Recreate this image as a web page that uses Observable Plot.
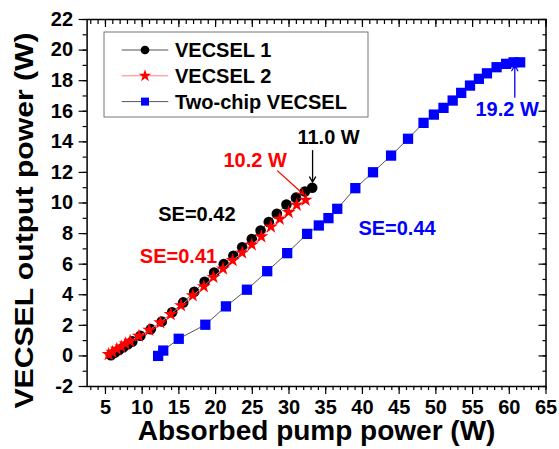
<!DOCTYPE html>
<html><head><meta charset="utf-8">
<script src="https://cdn.jsdelivr.net/npm/d3@7"></script>
<script src="https://cdn.jsdelivr.net/npm/@observablehq/plot@0.6"></script>
<style>body{margin:0;background:#fff}</style>
</head><body><div id="chart"></div>
<script>
const FONT = "'Liberation Sans', Arial, Helvetica, sans-serif";

// VECSEL 1 (black circles)
const vecsel1X = [5.75, 6.25, 6.85, 7.45, 8.06, 8.66, 9.76, 11.17, 12.67, 14.08, 15.59, 17.09, 18.5, 19.8, 21.11, 22.42, 23.62, 24.93, 26.13, 27.24, 28.34, 29.65, 30.95, 32.16, 33.16];
const vecsel1Y = [0.05, 0.2, 0.38, 0.57, 0.77, 0.95, 1.32, 1.75, 2.25, 2.85, 3.5, 4.2, 4.85, 5.45, 6.0, 6.55, 7.1, 7.65, 8.2, 8.75, 9.3, 9.9, 10.35, 10.75, 11.0];
// VECSEL 2 (red stars)
const vecsel2X = [5.44, 5.95, 6.55, 7.15, 7.75, 8.36, 9.56, 10.97, 12.47, 13.88, 15.29, 16.89, 18.4, 19.7, 21.01, 22.32, 23.62, 24.93, 26.23, 27.54, 28.74, 29.95, 31.05, 32.26];
const vecsel2Y = [0.1, 0.25, 0.45, 0.6, 0.8, 0.97, 1.3, 1.7, 2.18, 2.72, 3.3, 3.95, 4.54, 5.15, 5.7, 6.25, 6.75, 7.27, 7.8, 8.45, 8.95, 9.4, 9.87, 10.2];
// Two-chip VECSEL (blue squares)
const twoChipX = [12.17, 12.87, 14.98, 18.6, 21.41, 24.27, 27.03, 29.75, 32.46, 34.06, 35.37, 36.57, 39.03, 41.44, 43.9, 46.21, 48.32, 49.73, 51.04, 52.29, 53.45, 54.65, 55.86, 56.96, 58.27, 59.57, 60.58, 61.48];
const twoChipY = [0.0, 0.35, 1.12, 2.04, 3.24, 4.33, 5.54, 6.72, 7.98, 8.53, 9.01, 9.62, 10.97, 12.01, 13.1, 14.2, 15.24, 15.78, 16.22, 16.7, 17.2, 17.68, 18.12, 18.48, 18.88, 19.1, 19.2, 19.2];

const seriesNames = ["VECSEL 1", "VECSEL 2", "Two-chip VECSEL"];
const xTicks = [5, 10, 15, 20, 25, 30, 35, 40, 45, 50, 55, 60, 65];
const yTicks = [-2, 0, 2, 4, 6, 8, 10, 12, 14, 16, 18, 20, 22];
const xTitle = "Absorbed pump power (W)";
const yTitle = "VECSEL output power (W)";

// Annotations (data units)
const noteText = ["11.0 W", "10.2 W", "19.2 W", "SE=0.42", "SE=0.41", "SE=0.44"];
const noteX = [35.39, 25.38, 59.71, 17.45, 14.95, 44.71];
const noteY = [14.26, 12.78, 16.09, 9.25, 6.5, 8.31];
const noteColor = ["#000000", "#ff0000", "#0000ff", "#000000", "#ff0000", "#0000ff"];
// Arrows (data units)
const arrowX1 = [33.21, 28.44, 60.75];
const arrowY1 = [13.43, 12.1, 16.92];
const arrowX2 = [33.21, 31.99, 60.75];
const arrowY2 = [11.36, 10.56, 18.99];
const arrowColor = ["#000000", "#ff0000", "#0000ff"];

const rows = (xs, ys) => xs.map((x, i) => ({x, y: ys[i]}));
const v1 = rows(vecsel1X, vecsel1Y);
const v2 = rows(vecsel2X, vecsel2Y);
const tc = rows(twoChipX, twoChipY);
const notes = noteText.map((t, i) => ({t, x: noteX[i], y: noteY[i], c: noteColor[i]}));
const arrows = arrowX1.map((x1, i) => ({x1, y1: arrowY1[i], x2: arrowX2[i], y2: arrowY2[i], c: arrowColor[i]}));

const minorX = d3.range(3, 66, 1);
const minorY = d3.range(-2, 23, 1);

const legendItems = [
  {name: seriesNames[0], line: "#555", fill: "#000", sym: d3.symbolCircle, size: 60},
  {name: seriesNames[1], line: "#ff8080", fill: "#ff0000", sym: d3.symbolStar, size: 50},
  {name: seriesNames[2], line: "#555", fill: "#0000ff", sym: d3.symbolSquare, size: 64}
];

function legend() {
  const g = d3.create("svg:g").attr("text-anchor", "start");
  g.append("rect").attr("x", 104).attr("y", 32).attr("width", 264).attr("height", 85)
    .attr("fill", "white").attr("stroke", "#777").attr("stroke-width", 1);
  legendItems.forEach((s, i) => {
    const cy = 50 + i * 25.8;
    g.append("line").attr("x1", 121.7).attr("x2", 168.3).attr("y1", cy).attr("y2", cy)
      .attr("stroke", s.line).attr("stroke-width", 1);
    g.append("path").attr("transform", `translate(145,${cy})`)
      .attr("d", d3.symbol(s.sym, s.size)()).attr("fill", s.fill);
    g.append("text").attr("x", 175).attr("y", cy).attr("dy", "0.36em").attr("text-anchor", "start")
      .attr("font-size", 20).attr("font-weight", "bold").attr("fill", "#000").text(s.name);
  });
  return g.node();
}

const chart = Plot.plot({
  width: 559, height: 449,
  marginLeft: 86.6, marginRight: 13.5, marginTop: 19, marginBottom: 63,
  style: {fontFamily: FONT, fontWeight: "bold", fontSize: "20px", background: "white", color: "black", overflow: "visible"},
  x: {domain: [2.5, 65]},
  y: {domain: [-2, 22]},
  marks: [
    // bottom axis (outward)
    Plot.axisX({ticks: minorX, tickSize: 4, text: null, label: null, strokeWidth: 1.2}),
    Plot.axisX({ticks: xTicks, tickSize: 8, tickPadding: 5, fontSize: 20, fontWeight: "bold", label: null, tickFormat: d => String(d), strokeWidth: 1.2}),
    // top axis (inward)
    Plot.axisX({anchor: "top", ticks: minorX, tickSize: -4, text: null, label: null, strokeWidth: 1.2}),
    Plot.axisX({anchor: "top", ticks: xTicks, tickSize: -7, text: null, label: null, strokeWidth: 1.2}),
    // left axis (outward)
    Plot.axisY({ticks: minorY, tickSize: 4, text: null, label: null, strokeWidth: 1.2}),
    Plot.axisY({ticks: yTicks, tickSize: 8, tickPadding: 6, fontSize: 20, fontWeight: "bold", label: null, tickFormat: d => String(d), strokeWidth: 1.2}),
    // right axis (inward)
    Plot.axisY({anchor: "right", ticks: minorY, tickSize: -4, text: null, label: null, strokeWidth: 1.2}),
    Plot.axisY({anchor: "right", ticks: yTicks, tickSize: -8, text: null, label: null, strokeWidth: 1.2}),
    Plot.frame({stroke: "black", strokeWidth: 1.5}),
    // axis titles
    Plot.text([xTitle], {text: d => d, frameAnchor: "bottom", textAnchor: "middle", dy: 53, fontSize: 28, fontWeight: "bold"}),
    Plot.text([yTitle], {text: d => d, frameAnchor: "left", textAnchor: "middle", rotate: -90, dx: -62, dy: 17.5, fontSize: 26, fontWeight: "bold"}),
    // series
    Plot.line(tc, {x: "x", y: "y", stroke: "#555", strokeWidth: 1}),
    Plot.dot(tc, {x: "x", y: "y", symbol: "square", r: 5.8, fill: "#0000ff"}),
    Plot.line(v1, {x: "x", y: "y", stroke: "#555", strokeWidth: 1}),
    Plot.dot(v1, {x: "x", y: "y", symbol: "circle", r: 5.3, fill: "#000"}),
    Plot.line(v2, {x: "x", y: "y", stroke: "#ff8080", strokeWidth: 1}),
    Plot.dot(v2, {x: "x", y: "y", symbol: "star", r: 4.4, fill: "#ff0000"}),
    // annotations
    Plot.arrow(arrows, {x1: "x1", y1: "y1", x2: "x2", y2: "y2", stroke: "c", strokeWidth: 1.3, headLength: 7}),
    Plot.text(notes, {x: "x", y: "y", text: "t", fill: "c", fontSize: 20, fontWeight: "bold"}),
    legend
  ]
});
// stretch the y title along its length, as in the reference
d3.select(chart).selectAll("text").filter(function() { return this.textContent === yTitle; })
  .attr("textLength", 376).attr("lengthAdjust", "spacingAndGlyphs");
document.getElementById("chart").appendChild(chart);
</script>
</body></html>
